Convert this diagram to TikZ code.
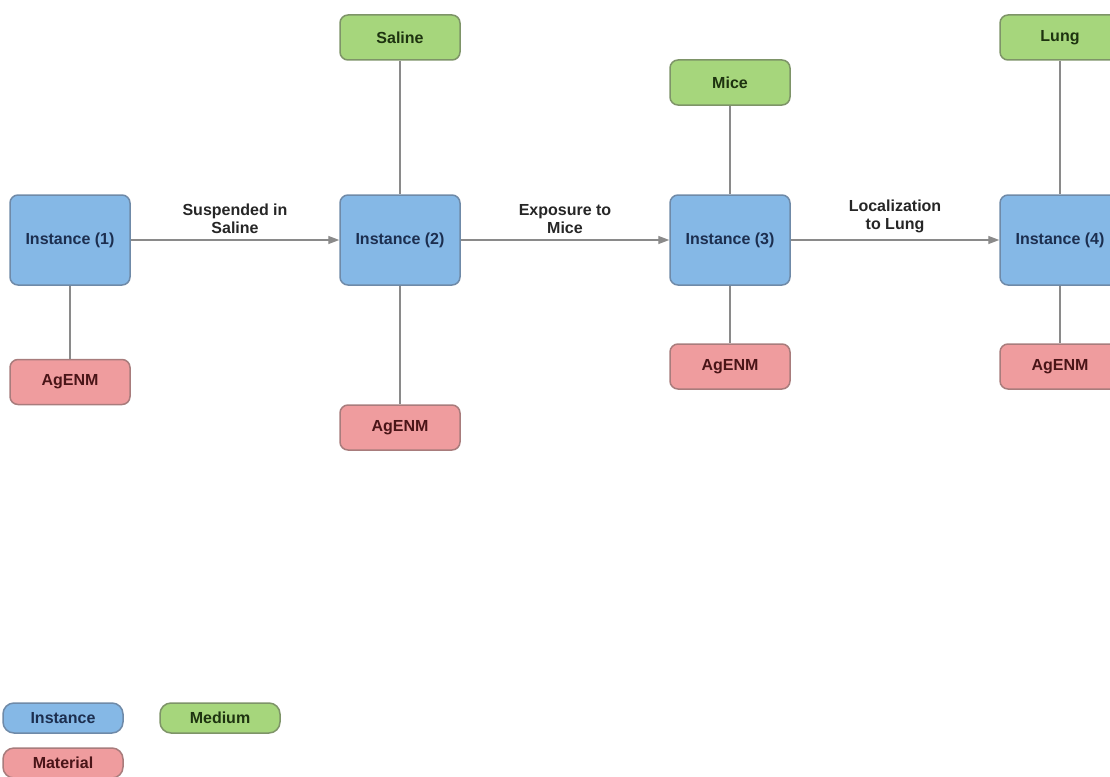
\documentclass[tikz,border=0pt]{standalone}
\usepackage{fontspec}
\setmainfont{Liberation Sans}
\usetikzlibrary{arrows.meta}

\definecolor{instfill}{HTML}{85B8E6}
\definecolor{instdraw}{HTML}{6F8AA8}
\definecolor{insttext}{HTML}{1C2E4F}
\definecolor{medfill}{HTML}{A6D67C}
\definecolor{meddraw}{HTML}{7E9468}
\definecolor{medtext}{HTML}{1E3310}
\definecolor{matfill}{HTML}{EF9C9E}
\definecolor{matdraw}{HTML}{A87C7C}
\definecolor{mattext}{HTML}{4A1518}
\definecolor{linkgray}{HTML}{8A8A8A}

\tikzset{
  box/.style={draw, line width=1.5pt, rounded corners=8pt, font=\fontsize{16}{18}\selectfont\bfseries,
    minimum width=120pt, inner sep=0pt},
  instance/.style={box, fill=instfill, draw=instdraw, text=insttext, minimum height=90pt},
  medium/.style={box, fill=medfill, draw=meddraw, text=medtext, minimum height=45pt},
  material/.style={box, fill=matfill, draw=matdraw, text=mattext, minimum height=45pt},
  legendbox/.style={rounded corners=11pt, minimum height=30pt, font=\fontsize{16}{18}\selectfont\bfseries},
  link/.style={draw=linkgray, line width=1.4pt},
  flow/.style={link, -{Triangle[length=11pt,width=8pt,fill=linkgray]}},
  flowlabel/.style={above, align=center, inner sep=6pt, text=black!85,
    font=\fontsize{16}{18}\selectfont\bfseries}
}

\begin{document}
\begin{tikzpicture}[x=1pt,y=-1pt]
    \useasboundingbox (0,0) rectangle (1110,776);

    \node[instance] (inst1) at (70,240) {Instance (1)};
    \node[instance] (inst2) at (400,240) {Instance (2)};
    \node[instance] (inst3) at (730,240) {Instance (3)};
    \node[instance] (inst4) at (1060,240) {Instance (4)};

    \node[medium] (saline) at (400,37.5) {Saline};
    \node[medium] (mice) at (730,82.5) {Mice};
    \node[medium] (lung) at (1060,37.5) {Lung};

    \node[material] (agenm1) at (70,382) {AgENM};
    \node[material] (agenm2) at (400,427.5) {AgENM};
    \node[material] (agenm3) at (730,366.5) {AgENM};
    \node[material] (agenm4) at (1060,366.5) {AgENM};

    \draw[flow] (inst1) -- node[flowlabel] {Suspended in\\Saline} (inst2);
    \draw[flow] (inst2) -- node[flowlabel] {Exposure to\\Mice} (inst3);
    \draw[flow] (inst3) -- node[flowlabel] {Localization\\to Lung} (inst4);

    \draw[link] (saline) -- (inst2);
    \draw[link] (mice) -- (inst3);
    \draw[link] (lung) -- (inst4);
    \draw[link] (inst1) -- (agenm1);
    \draw[link] (inst2) -- (agenm2);
    \draw[link] (inst3) -- (agenm3);
    \draw[link] (inst4) -- (agenm4);

    \node[instance, legendbox] (leginst) at (63,718) {Instance};
    \node[medium, legendbox] (legmed) at (220,718) {Medium};
    \node[material, legendbox] (legmat) at (63,763) {Material};
\end{tikzpicture}
\end{document}
